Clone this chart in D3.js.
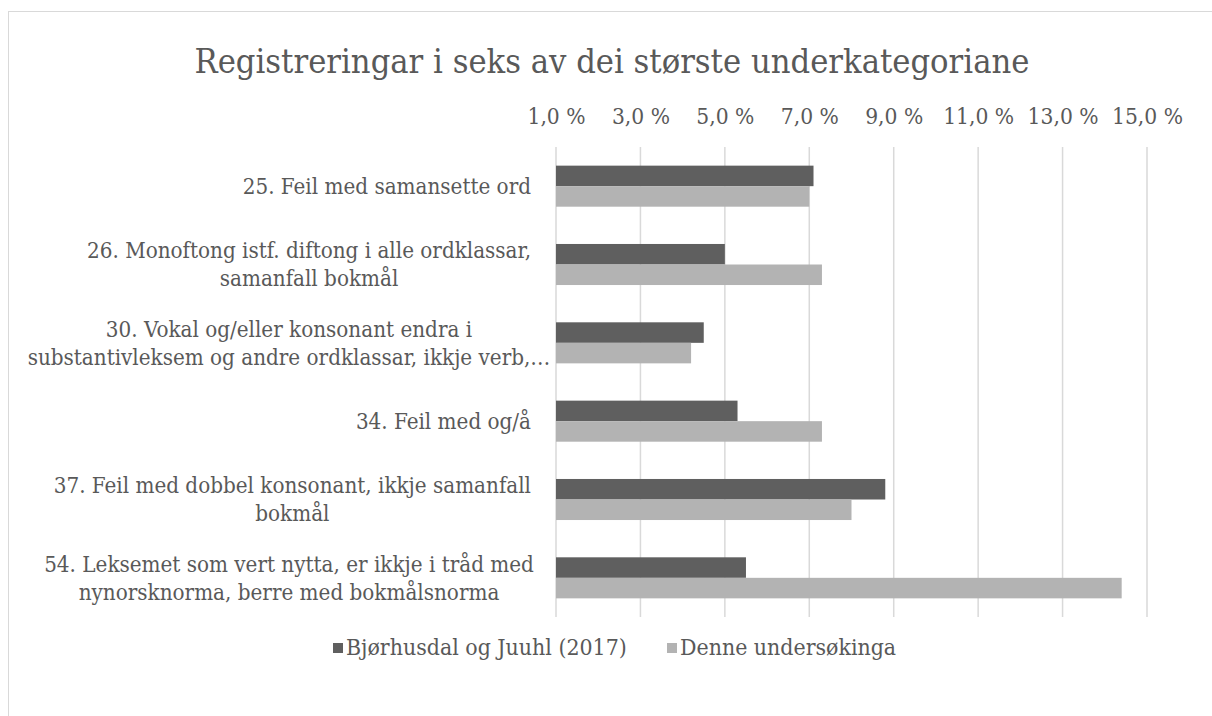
<!DOCTYPE html>
<html>
<head>
<meta charset="utf-8">
<script src="https://cdn.jsdelivr.net/npm/d3@7"></script>
<style>
body{margin:0;background:#fff}
svg text{font-family:"DejaVu Serif Condensed","DejaVu Serif",serif;fill:#595959}
</style>
</head>
<body>
<svg id="chart" width="1212" height="716"></svg>
<script>
var title = "Registreringar i seks av dei største underkategoriane"
var categories = [
	["25. Feil med samansette ord"],
	["26. Monoftong istf. diftong i alle ordklassar,","samanfall bokmål"],
	["30. Vokal og/eller konsonant endra i","substantivleksem og andre ordklassar, ikkje verb,…"],
	["34. Feil med og/å"],
	["37. Feil med dobbel konsonant, ikkje samanfall","bokmål"],
	["54. Leksemet som vert nytta, er ikkje i tråd med","nynorsknorma, berre med bokmålsnorma"]
]
var seriesNames = ["Bjørhusdal og Juuhl (2017)","Denne undersøkinga"]
var bjorhusdal = [0.071,0.050,0.045,0.053,0.088,0.055]
var denne = [0.070,0.073,0.042,0.073,0.080,0.144]
var ticks = [0.01,0.03,0.05,0.07,0.09,0.11,0.13,0.15]
var colors = ["#5f5f5f","#b3b3b3"]

var svg = d3.select("#chart")

// scale a text's font size so that its width matches the reference
function fitSize(sel, size, target){
	sel.style("font-size",size+"px")
	var w = sel.node().getComputedTextLength()
	return size*target/w
}

svg.append("rect").attr("x",8.5).attr("y",11.5).attr("width",1210).attr("height",720)
	.attr("fill","#fff").attr("stroke","#d9d9d9").attr("stroke-width",1)

var x = d3.scaleLinear().domain([0.01,0.15]).range([556,1147])
var y = d3.scaleBand().domain(d3.range(categories.length)).range([147,617]).paddingInner(0.476).paddingOuter(0.238)
var ys = d3.scaleBand().domain([0,1]).range([0,y.bandwidth()])

// title
var tt = svg.append("text").attr("x",612).attr("y",73).attr("text-anchor","middle").text(title)
tt.style("font-size",fitSize(tt,36,835)+"px")

// gridlines
svg.append("g").selectAll("line").data(ticks).join("line")
	.attr("x1",function(d){return x(d)}).attr("x2",function(d){return x(d)})
	.attr("y1",147).attr("y2",617)
	.attr("stroke","#d9d9d9").attr("stroke-width",1.5)

// top axis
var axis = d3.axisTop(x).tickValues(ticks).tickSize(0).tickPadding(0)
	.tickFormat(function(d){return (d*100).toFixed(1).replace(".",",")+" %"})
var ax = svg.append("g").attr("transform","translate(0,124)").call(axis)
ax.select(".domain").remove()
ax.selectAll("text").attr("dy",0).style("font-family",null).attr("fill","#595959")
var last = ax.selectAll("text").filter(function(d){return d==0.15})
ax.selectAll("text").style("font-size",fitSize(last,20,71)+"px")

// bars
var data = [bjorhusdal,denne]
data.forEach(function(s,si){
	svg.append("g").selectAll("rect").data(s).join("rect")
		.attr("x",x(0.01))
		.attr("y",function(d,i){return y(i)+ys(si)})
		.attr("width",function(d){return x(d)-x(0.01)})
		.attr("height",ys.bandwidth())
		.attr("fill",colors[si])
})

// category labels
var probe = svg.append("text").text(categories[5][0])
var labSize = fitSize(probe,20,490)
probe.remove()
var lab = svg.append("g")
categories.forEach(function(lines,i){
	var cy = y(i)+y.bandwidth()/2
	var lh = labSize*1.25
	var t = lab.append("text").style("font-size",labSize+"px").attr("text-anchor","middle")
	var w = 0
	lines.forEach(function(l,k){
		var sp = t.append("tspan").attr("x",0).attr("y",cy+labSize*0.35+(k-(lines.length-1)/2)*lh).text(l)
		w = Math.max(w,sp.node().getComputedTextLength())
	})
	// right align the block, centre the lines inside it; very long blocks overflow
	var cx = Math.max(531-w/2,289)
	t.selectAll("tspan").attr("x",cx)
})

// legend
var leg = svg.append("g")
var lx = [333,667]
var legSize
seriesNames.forEach(function(n,i){
	leg.append("rect").attr("x",lx[i]).attr("y",643).attr("width",10).attr("height",10).attr("fill",colors[i])
	var t = leg.append("text").attr("x",lx[i]+13).attr("y",655).text(n)
	if(i==0) legSize = fitSize(t,20,281)
	t.style("font-size",legSize+"px")
})
</script>
</body>
</html>
